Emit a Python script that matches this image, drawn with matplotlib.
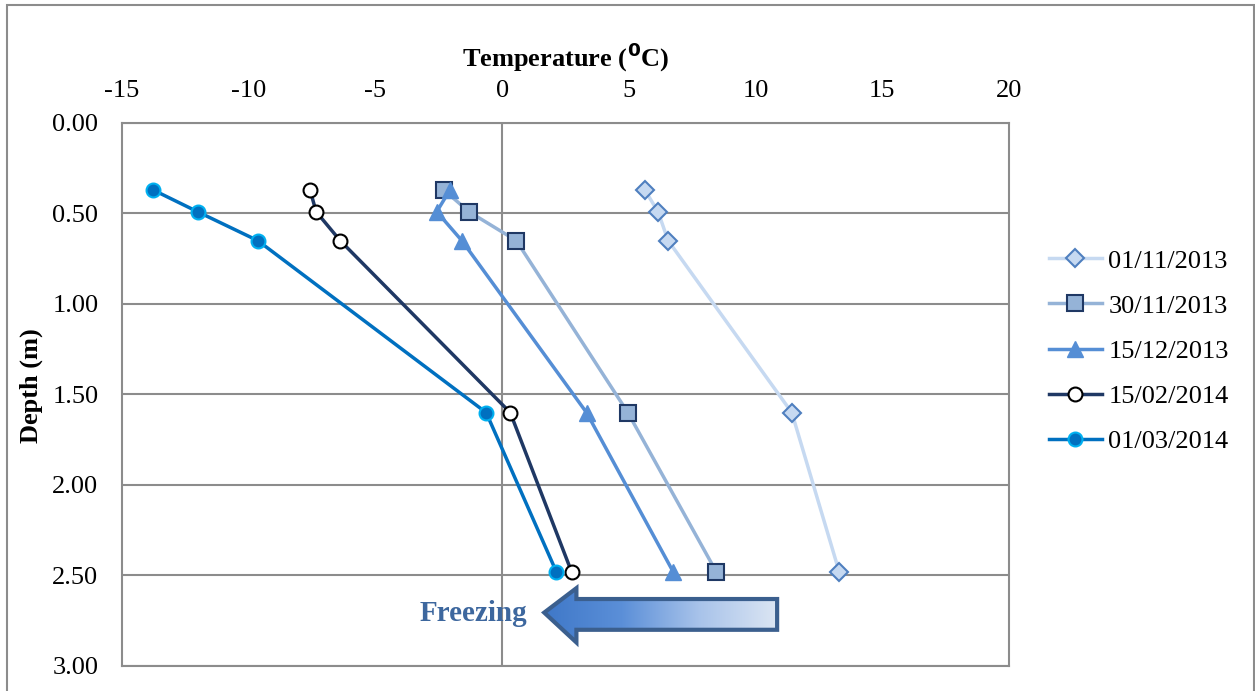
import numpy as np
import matplotlib
matplotlib.use("Agg")
from matplotlib import pyplot as plt
from matplotlib.patches import Polygon, Rectangle
from matplotlib.colors import LinearSegmentedColormap

plt.rcParams['font.family'] = ['Liberation Serif', 'DejaVu Serif']
plt.rcParams['axes.unicode_minus'] = False

depth = [0.37, 0.49, 0.65, 1.60, 2.48]
labels = ['01/11/2013', '30/11/2013', '15/12/2013', '15/02/2014', '01/03/2014']
t_0111 = [5.63, 6.15, 6.55, 11.43, 13.30]
t_3011 = [-2.30, -1.31, 0.56, 4.96, 8.45]
t_1512 = [-2.06, -2.58, -1.59, 3.33, 6.75]
t_1502 = [-7.58, -7.34, -6.39, 0.32, 2.74]
t_0103 = [-13.77, -12.02, -9.64, -0.63, 2.14]
x_ticks = [-15, -10, -5, 0, 5, 10, 15, 20]
y_ticks = [0.0, 0.5, 1.0, 1.5, 2.0, 2.5, 3.0]

fig = plt.figure(figsize=(12.55, 6.91), dpi=100)
ax = fig.add_axes([0.0972, 0.0362, 0.7068, 0.7858])

# outer frame of the chart area
fig.add_artist(Rectangle((0.0056, -0.01), 0.9936, 1 - 0.0072 + 0.01, transform=fig.transFigure,
                         fill=False, edgecolor='#8c8c8c', linewidth=1.5))

ax.plot(t_0111, depth, color='#c6d9f1', lw=2.5, marker='D', ms=9, mfc='#c6d9f1',
        mec='#4f7fbf', mew=1.5, label=labels[0], zorder=3)
ax.plot(t_3011, depth, color='#95b3d7', lw=2.5, marker='s', ms=11, mfc='#95b3d7',
        mec='#1f3864', mew=1.5, label=labels[1], zorder=3)
ax.plot(t_1512, depth, color='#558ed5', lw=2.5, marker='^', ms=11, mfc='#558ed5',
        mec='#558ed5', mew=1, label=labels[2], zorder=3)
ax.plot(t_1502, depth, color='#1f3864', lw=2.5, marker='o', ms=10, mfc='white',
        mec='black', mew=1.5, label=labels[3], zorder=3)
ax.plot(t_0103, depth, color='#0070c0', lw=2.5, marker='o', ms=10, mfc='#0070c0',
        mec='#00b0f0', mew=1.5, label=labels[4], zorder=3)

ax.set_xticks(x_ticks)
ax.set_yticks(y_ticks)
ax.set_yticklabels(['%.2f' % v for v in y_ticks])
ax.xaxis.tick_top()
ax.tick_params(length=0, labelsize=19)
ax.tick_params(axis='y', pad=17)
ax.tick_params(axis='x', pad=15)
ax.grid(axis='y', color='#8c8c8c', lw=1.5)
ax.axvline(0, color='#8c8c8c', lw=1.5, zorder=1)
for s in ax.spines.values():
    s.set_color('#8c8c8c')
    s.set_linewidth(1.5)
ax.text(0.5, 1.1215, 'Temperature ($\\mathbf{^{0}}$C)', transform=ax.transAxes, fontsize=19,
        fontweight='bold', ha='center', va='center')
ax.text(-0.102, 0.517, 'Depth (m)', transform=ax.transAxes, fontsize=19, fontweight='bold',
        rotation=90, ha='center', va='center')

# freezing arrow with gradient fill
arrow = [(1.66, 2.705), (2.93, 2.57), (2.93, 2.63), (10.85, 2.63), (10.85, 2.80),
         (2.93, 2.80), (2.93, 2.87)]
poly = Polygon(arrow, closed=True, facecolor='none', edgecolor='#3b5f8e', lw=3, zorder=5)
ax.add_patch(poly)
grad = np.linspace(0, 1, 256).reshape(1, -1)
cm = LinearSegmentedColormap.from_list('g', ['#3f78c8', '#5b8fd8', '#a8c3ea', '#dbe5f3'])
img = ax.imshow(grad, cmap=cm, extent=(1.66, 10.85, 2.87, 2.57), aspect='auto', zorder=4)
img.set_clip_path(poly)
ax.set_xlim(-15, 20)
ax.set_ylim(3, 0)
ax.text(-1.15, 2.71, 'Freezing', fontsize=21, fontweight='bold', color='#3d679e',
        ha='center', va='center', zorder=6)

ax.legend(loc='center left', bbox_to_anchor=(1.03, 0.58), frameon=False, fontsize=19,
          labelspacing=0.82, handlelength=2.0, handletextpad=0.25, borderpad=0)

plt.savefig('out.png', dpi=100)
